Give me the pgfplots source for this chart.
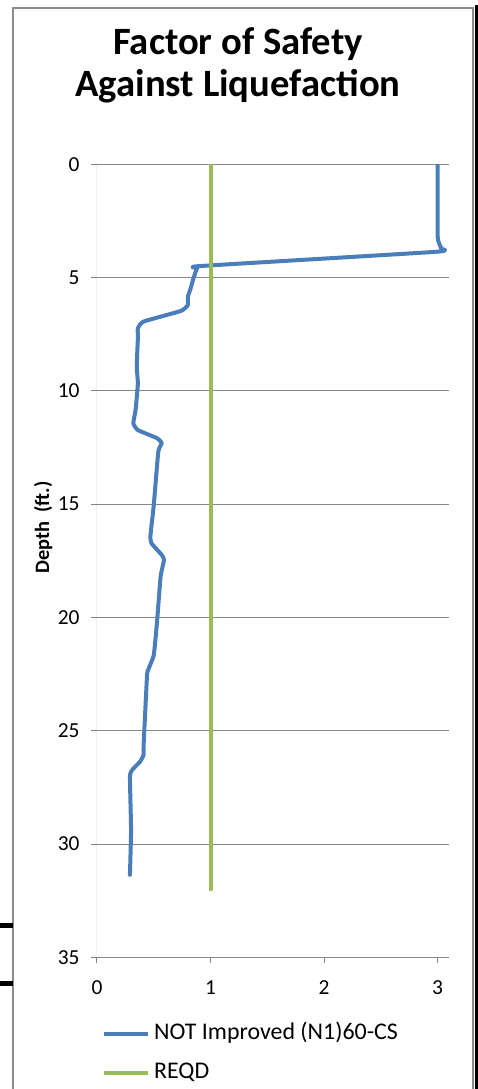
\documentclass[border=0pt]{standalone}
\usepackage{fontspec}
\setmainfont{Carlito}
\usepackage{pgfplots}
\pgfplotsset{compat=1.18}
\definecolor{fsblue}{HTML}{4A7EBB}
\definecolor{reqgreen}{HTML}{9BBB59}
\definecolor{gridgray}{HTML}{868686}
\definecolor{framegray}{HTML}{8C8C8C}
\newcommand{\lblfont}{\fontsize{21.5}{26}\selectfont}
\newcommand{\legfont}{\fontsize{24}{28}\selectfont}

\begin{document}
\begin{tikzpicture}[x=1bp,y=1bp]
\useasboundingbox (0,0) rectangle (478,1089);
% chart frame and screenshot edges
\draw[framegray, line width=1.2bp] (13,-20) rectangle (473,1081);
\fill[black] (474.5,-5) rectangle (478,1084);
\fill[black] (0,160.5) rectangle (12.5,165.5);
\fill[black] (0,102.5) rectangle (12.5,107.5);
% title
\node[font=\bfseries\fontsize{38.8}{46}\selectfont, anchor=base] at (238,1034) {Factor of Safety};
\node[font=\bfseries\fontsize{38.8}{46}\selectfont, anchor=base] at (238,992) {Against Liquefaction};
\coordinate (axtl) at (97,924.7);

\begin{axis}[
    at={(axtl)}, anchor=north west,
    scale only axis,
    width=352bp, height=793bp,
    xmin=0, xmax=3.1,
    ymin=0, ymax=35,
    y dir=reverse,
    xtick={0,1,2,3},
    ytick={0,5,...,35},
    ymajorgrids,
    grid style={gridgray, line width=1bp},
    axis line style={draw=none},
    tick style={gridgray, line width=1bp},
    tick align=outside,
    major tick length=6bp,
    xtick pos=left, ytick pos=left,
    /pgf/number format/assume math mode=true,
    ticklabel style={font=\lblfont, text=black},
    yticklabel style={xshift=-8bp},
    xticklabel style={yshift=-14bp},
    ylabel={Depth~~(ft.)},
    ylabel style={font=\bfseries\fontsize{20.5}{24}\selectfont, at={(axis description cs:-0.153,0.542)}, anchor=center, rotate=0},
    legend cell align=left,
    legend image code/.code={\draw[#1, line cap=butt] (0bp,0bp) -- (44bp,0bp);},
    legend style={draw=none, fill=none, at={(axis description cs:0.0142,-0.0835)}, anchor=north west,
        inner sep=0pt, row sep=18bp, column sep=4bp, font=\legfont,
        nodes={inner sep=0pt, text height=16bp, text depth=5bp}},
]
\draw[gridgray, line width=1bp] (axis cs:0,0) -- (axis cs:0,35);
\draw[gridgray, line width=1bp] (axis cs:0,35) -- (axis cs:3.1,35);
\addplot[fsblue, line width=4bp, line cap=round, line join=round, smooth, tension=0.25] coordinates {
(3.00,0) (3.00,3.19) (3.03,3.71) (2.99,3.86) (0.91,4.49) (0.88,4.59) (0.85,5.03)
(0.82,5.55) (0.80,5.84) (0.80,6.21) (0.74,6.47) (0.41,6.94) (0.36,7.24) (0.36,7.68)
(0.35,8.93) (0.36,9.67) (0.34,10.84) (0.32,11.43) (0.36,11.73) (0.53,12.09) (0.57,12.31)
(0.54,12.68) (0.50,15.04) (0.47,16.43) (0.48,16.73) (0.57,17.24) (0.59,17.46) (0.56,18.20)
(0.53,20.11) (0.50,21.66) (0.45,22.32) (0.44,22.61) (0.41,25.70) (0.41,26.07) (0.38,26.36)
(0.31,26.73) (0.29,27.03) (0.30,29.38) (0.29,31.36)
};
\addlegendentry{NOT Improved (N1)60-CS}
\addplot[reqgreen, line width=4bp, line cap=round] coordinates {(1,0) (1,32)};
\addlegendentry{REQD}
\end{axis}
\end{tikzpicture}
\end{document}
